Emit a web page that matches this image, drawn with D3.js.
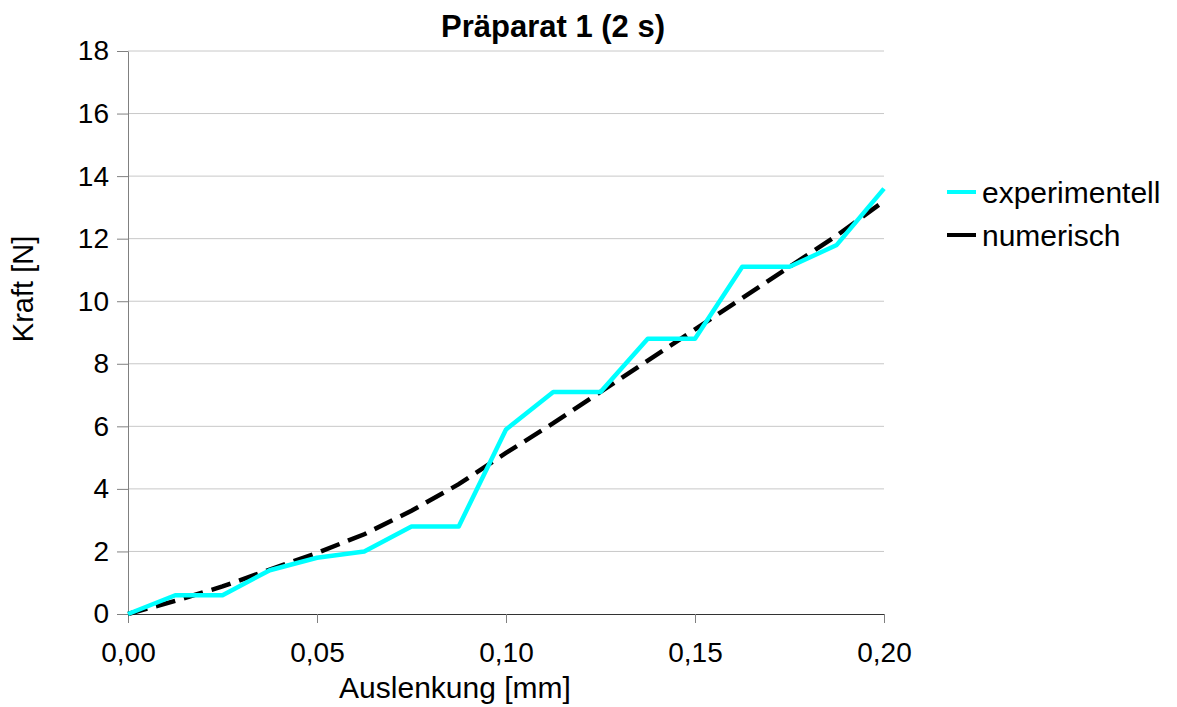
<!DOCTYPE html>
<html>
<head>
<meta charset="utf-8">
<script src="https://cdn.jsdelivr.net/npm/d3@7.9.0/dist/d3.min.js"></script>
<style>
  body { margin: 0; background: #fff; }
  svg { font-family: "Liberation Sans", Arial, sans-serif; }
</style>
</head>
<body>
<svg id="chart" width="1177" height="707"></svg>
<script>
// data
const xValues = [0, 0.0125, 0.025, 0.0375, 0.05, 0.0625, 0.075, 0.0875, 0.1,
                 0.1125, 0.125, 0.1375, 0.15, 0.1625, 0.175, 0.1875, 0.2];
const experimentell = [0, 0.6, 0.6, 1.4, 1.8, 2.0, 2.8, 2.8, 5.9,
                       7.1, 7.1, 8.8, 8.8, 11.1, 11.1, 11.8, 13.6];
const numerisch = [0, 0.42, 0.88, 1.42, 1.95, 2.55, 3.3, 4.15, 5.15,
                   6.1, 7.1, 8.1, 9.1, 10.1, 11.1, 12.1, 13.2];
const xTicks = [0, 0.05, 0.1, 0.15, 0.2];
const yTicks = [0, 2, 4, 6, 8, 10, 12, 14, 16, 18];
const seriesNames = ['experimentell', 'numerisch'];

const svg = d3.select('#chart');
const plotLeft = 128, plotRight = 884, plotTop = 51, plotBottom = 614;

let x = d3.scaleLinear().domain([0, 0.2]).range([plotLeft, plotRight]);
let y = d3.scaleLinear().domain([0, 18]).range([plotBottom, plotTop]);
const fmt = (d) => d3.format('.2f')(d).replace('.', ',');

// gridlines
svg.append('g')
    .selectAll('line')
    .data(yTicks.slice(1))
    .join('line')
    .attr('x1', plotLeft).attr('x2', plotRight)
    .attr('y1', (d) => y(d)).attr('y2', (d) => y(d))
    .attr('stroke', '#c8c8c8')
    .attr('stroke-width', 1);

// y axis
let yAxis = svg.append('g')
    .attr('transform', `translate(${plotLeft},0)`)
    .call(d3.axisLeft(y).tickValues(yTicks).tickSize(11).tickPadding(8).tickSizeOuter(0));
yAxis.select('.domain').attr('stroke', '#808080');
yAxis.selectAll('.tick line').attr('stroke', '#808080');
yAxis.selectAll('text').attr('font-size', 28).attr('fill', '#000')
    .attr('font-family', '"Liberation Sans", Arial, sans-serif');

// x axis
let xAxis = svg.append('g')
    .attr('transform', `translate(0,${plotBottom})`)
    .call(d3.axisBottom(x).tickValues(xTicks).tickFormat(fmt).tickSize(9).tickPadding(19).tickSizeOuter(0));
xAxis.select('.domain').attr('stroke', '#333');
xAxis.selectAll('.tick line').attr('stroke', '#808080');
xAxis.selectAll('text').attr('font-size', 28).attr('fill', '#000')
    .attr('font-family', '"Liberation Sans", Arial, sans-serif');

// lines
const line = d3.line().x((d) => x(d[0])).y((d) => y(d[1]));
svg.append('path')
    .datum(d3.zip(xValues, numerisch))
    .attr('d', line)
    .attr('fill', 'none')
    .attr('stroke', '#000')
    .attr('stroke-width', 4.5)
    .attr('stroke-dasharray', '20,9');
svg.append('path')
    .datum(d3.zip(xValues, experimentell))
    .attr('d', line)
    .attr('fill', 'none')
    .attr('stroke', '#00ffff')
    .attr('stroke-width', 4.5)
    .attr('stroke-linejoin', 'round');

// titles
svg.append('text')
    .attr('x', 553).attr('y', 37)
    .attr('text-anchor', 'middle')
    .attr('font-size', 31).attr('font-weight', 'bold')
    .text('Präparat 1 (2 s)');
svg.append('text')
    .attr('x', 455).attr('y', 698)
    .attr('text-anchor', 'middle')
    .attr('font-size', 30)
    .text('Auslenkung [mm]');
svg.append('text')
    .attr('transform', 'translate(33,289) rotate(-90)')
    .attr('text-anchor', 'middle')
    .attr('font-size', 29)
    .text('Kraft [N]');

// legend
const colors = ['#00ffff', '#000'];
let legend = svg.append('g');
seriesNames.forEach((name, i) => {
    let yy = 192 + i * 43;
    legend.append('line')
        .attr('x1', 947).attr('x2', 976)
        .attr('y1', yy).attr('y2', yy)
        .attr('stroke', colors[i]).attr('stroke-width', 4);
    legend.append('text')
        .attr('x', 982).attr('y', yy + 11)
        .attr('font-size', 30)
        .text(name);
});
</script>
</body>
</html>
